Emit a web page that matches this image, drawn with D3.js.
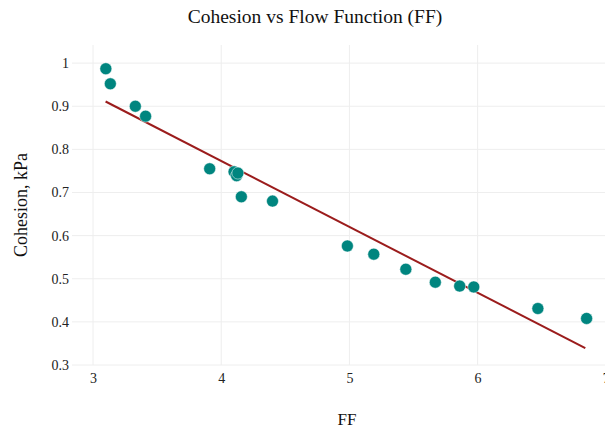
<!DOCTYPE html>
<html>
<head>
<meta charset="utf-8">
<script src="https://cdn.jsdelivr.net/npm/d3@7"></script>
<style>
  html, body { margin: 0; padding: 0; background: #fff; overflow: hidden; }
</style>
</head>
<body>
<div id="chart"></div>
<script>
// values
const ffValues = [3.10, 3.135, 3.33, 3.41, 3.91, 4.10, 4.12, 4.13, 4.157, 4.40, 4.984, 5.19, 5.44, 5.67, 5.86, 5.97, 6.47, 6.85];
const cohesionValues = [0.987, 0.952, 0.900, 0.877, 0.755, 0.748, 0.739, 0.745, 0.690, 0.680, 0.576, 0.557, 0.522, 0.492, 0.483, 0.481, 0.431, 0.408];
const trendX = [3.098, 6.84];
const trendY = [0.911, 0.339];
const xTicks = [3, 4, 5, 6, 7];
const yTicks = [0.3, 0.4, 0.5, 0.6, 0.7, 0.8, 0.9, 1];

const width = 660, height = 432;
const margin = { top: 45, left: 72, right: 30, bottom: 67 };
const font = "'Liberation Serif', 'Times New Roman', serif";

const svg = d3.select("#chart").append("svg")
    .attr("width", width)
    .attr("height", height)
    .attr("font-family", font);

const x = d3.scaleLinear()
    .domain([2.836, 7.25])
    .range([margin.left, margin.left + (7.25 - 2.836) * 128.2]);
const y = d3.scaleLinear()
    .domain([0.3, 1.042])
    .range([height - margin.bottom, margin.top]);

const plotRight = x.range()[1];

// grid
svg.append("g").selectAll("line.vg")
    .data(xTicks)
    .join("line")
    .attr("class", "vg")
    .attr("x1", d => x(d)).attr("x2", d => x(d))
    .attr("y1", y.range()[0]).attr("y2", y.range()[1])
    .attr("stroke", "#eeeeee").attr("stroke-width", 1);

svg.append("g").selectAll("line.hg")
    .data(yTicks)
    .join("line")
    .attr("class", "hg")
    .attr("x1", margin.left).attr("x2", plotRight)
    .attr("y1", d => y(d)).attr("y2", d => y(d))
    .attr("stroke", "#eeeeee").attr("stroke-width", 1);

// axes
const xAxis = svg.append("g")
    .attr("transform", `translate(0,${y.range()[0]})`)
    .call(d3.axisBottom(x).tickValues(xTicks).tickSize(0).tickPadding(8).tickFormat(d3.format("d")));
const yAxis = svg.append("g")
    .attr("transform", `translate(${margin.left},0)`)
    .call(d3.axisLeft(y).tickValues(yTicks).tickSize(0).tickPadding(3).tickFormat(d => String(d)));

[xAxis, yAxis].forEach(a => {
    a.attr("font-family", font).attr("font-size", 14);
    a.select(".domain").remove();
    a.selectAll("text").attr("fill", "#222");
});

// trend line
svg.append("line")
    .attr("x1", x(trendX[0])).attr("y1", y(trendY[0]))
    .attr("x2", x(trendX[1])).attr("y2", y(trendY[1]))
    .attr("stroke", "#9b1c1c")
    .attr("stroke-width", 2);

// points
svg.append("g").selectAll("circle")
    .data(ffValues.map((v, i) => ({ ff: v, c: cohesionValues[i] })))
    .join("circle")
    .attr("cx", d => x(d.ff))
    .attr("cy", d => y(d.c))
    .attr("r", 6)
    .attr("fill", "#00857f")
    .attr("stroke", "#ffffff")
    .attr("stroke-width", 0.5);

// titles
svg.append("text")
    .attr("x", 315).attr("y", 23)
    .attr("text-anchor", "middle")
    .attr("font-size", 19.5)
    .attr("fill", "#111")
    .text("Cohesion vs Flow Function (FF)");

svg.append("text")
    .attr("x", 347).attr("y", 425)
    .attr("text-anchor", "middle")
    .attr("font-size", 17)
    .attr("fill", "#111")
    .text("FF");

svg.append("text")
    .attr("transform", `translate(27,${(y.range()[0] + y.range()[1]) / 2}) rotate(-90)`)
    .attr("text-anchor", "middle")
    .attr("font-size", 18)
    .attr("fill", "#111")
    .text("Cohesion, kPa");
</script>
</body>
</html>
